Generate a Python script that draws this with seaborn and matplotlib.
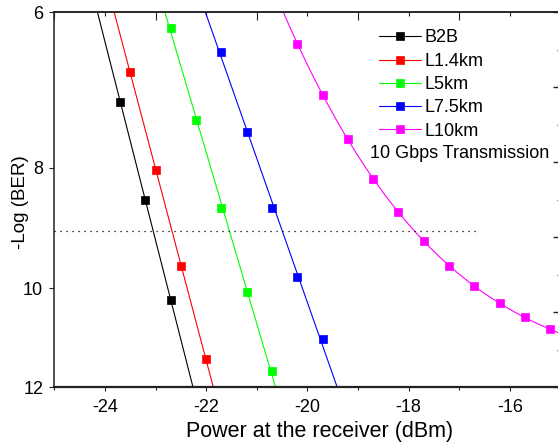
import numpy as np
import seaborn as sns
from matplotlib import pyplot as plt
from matplotlib.lines import Line2D
from matplotlib.ticker import FixedLocator, NullLocator, FuncFormatter

# measured points: received power (dBm) vs -log(BER)
p_b2b = [-23.7, -23.2, -22.7]
ber_b2b = [7.08, 8.50, 10.22]
p_l14 = [-23.5, -23.0, -22.5, -22.0]
ber_l14 = [6.70, 8.04, 9.60, 11.39]
p_l5 = [-22.7, -22.2, -21.7, -21.2, -20.7]
ber_l5 = [6.18, 7.32, 8.62, 10.07, 11.64]
p_l75 = [-21.7, -21.2, -20.7, -20.2, -19.7]
ber_l75 = [6.46, 7.49, 8.62, 9.79, 10.99]
p_l10 = [-20.2, -19.7, -19.2, -18.7, -18.2, -17.7, -17.2, -16.7, -16.2, -15.7, -15.2]
ber_l10 = [6.36, 6.99, 7.59, 8.17, 8.69, 9.16, 9.59, 9.96, 10.28, 10.55, 10.79]

labels = ['B2B', 'L1.4km', 'L5km', 'L7.5km', 'L10km']
colors = ['black', '#ff0000', '#00ff00', '#0000ff', '#ff00ff']
fit_deg = [1, 1, 1, 1, 3]

fec_limit = 9.0      # dotted reference line
fec_x_end = -16.6

sns.set_theme(style='ticks')
plt.rcParams['font.family'] = ['Liberation Sans', 'DejaVu Sans']
plt.rcParams['axes.unicode_minus'] = False

W, H = 558, 443
fig = plt.figure(figsize=(W/100, H/100), dpi=100)
ax = fig.add_axes([54.4/W, 1-387/H, (560.4-54.4)/W, (387-12)/H])

series = [(p_b2b, ber_b2b), (p_l14, ber_l14), (p_l5, ber_l5), (p_l75, ber_l75), (p_l10, ber_l10)]
for (xs, ys), col, deg in zip(series, colors, fit_deg):
    xs = np.array(xs); ys = np.array(ys)
    #fitted curve, straight on the log axis
    coef = np.polyfit(xs, np.log(ys), deg)
    xx = np.linspace(xs[0]-1.2, xs[-1]+1.2, 300)
    sns.lineplot(x=xx, y=np.exp(np.polyval(coef, xx)), color=col, lw=0.8, ax=ax, legend=False)
    sns.scatterplot(x=xs, y=ys, marker='s', s=30, color=col, edgecolor=col, linewidth=0.5,
                    ax=ax, legend=False, zorder=3)

ax.plot([-25, fec_x_end], [fec_limit, fec_limit], color='black', lw=0.9,
        linestyle=(0, (1, 3.8)))

ax.set_xlim(-25, -15)
ax.set_yscale('log')
ax.set_ylim(12, 6)
ax.yaxis.set_major_locator(FixedLocator([6, 8, 10, 12]))
ax.yaxis.set_major_formatter(FuncFormatter(lambda v, p: '%g' % v))
ax.yaxis.set_minor_locator(NullLocator())
ax.xaxis.set_major_locator(FixedLocator([-24, -22, -20, -18, -16]))
ax.xaxis.set_minor_locator(FixedLocator([-25, -23, -21, -19, -17, -15]))
ax.tick_params(axis='x', which='major', labelsize=13, length=3.1, width=0.8,
               direction='out', color='#222222', labelcolor='black', pad=5.5)
ax.tick_params(axis='y', which='major', labelsize=13, length=3.6, width=0.8,
               direction='out', color='#222222', labelcolor='black', pad=4.5)
ax.tick_params(axis='x', which='minor', length=2, width=0.8, direction='out', color='#222222')

for s in ['left', 'top']:
    ax.spines[s].set_linewidth(1.1)
    ax.spines[s].set_color('#222222')
ax.spines['bottom'].set_linewidth(1.6)
ax.spines['bottom'].set_color('#222222')
ax.spines['right'].set_visible(False)

ax.set_xlabel('Power at the receiver (dBm)', fontsize=15.5, color='black')
ax.set_ylabel('-Log (BER)', fontsize=13.5, color='black')
ax.xaxis.set_label_coords(0.525, -0.092)
ax.yaxis.set_label_coords(-0.05, 0.493)

#top axis ticks
top = ax.secondary_xaxis('top')
top.xaxis.set_major_locator(FixedLocator([-25, -23, -21, -19, -17, -15]))
top.xaxis.set_minor_locator(FixedLocator([-24, -22, -20, -18, -16]))
top.tick_params(which='major', direction='in', length=6, width=0.8, labeltop=False, color='#222222')
top.tick_params(which='minor', direction='in', length=3, width=0.8, color='#222222')
top.spines['top'].set_linewidth(1.1)
top.spines['top'].set_color('#222222')

#right axis ticks (labels fall outside the figure)
ax2 = ax.twinx()
ax2.set_ylim(0, 10)
ax2.yaxis.set_major_locator(FixedLocator([0, 2, 4, 6, 8, 10]))
ax2.yaxis.set_minor_locator(FixedLocator([1, 3, 5, 7, 9]))
ax2.tick_params(which='major', direction='in', length=5, width=1.0, labelright=False, color='#222222')
ax2.tick_params(which='minor', direction='in', length=2, width=1.0, color='#222222')
for s in ['left', 'top', 'bottom']:
    ax2.spines[s].set_visible(False)

handles = [Line2D([0], [0], color=c, lw=0.8, marker='s', ms=6.3, mec=c, mew=0.5) for c in colors]
leg = ax.legend(handles, labels, loc='upper left', bbox_to_anchor=(379/W, 1-29.5/H),
                bbox_transform=fig.transFigure, frameon=False, fontsize=13,
                borderpad=0, borderaxespad=0, labelspacing=0.35, handlelength=2.3,
                handletextpad=0.2)
for t in leg.get_texts():
    t.set_color('black')

fig.text(370/W, 1-153/H, '10 Gbps Transmission', fontsize=13, va='center', ha='left', color='black')

fig.savefig('out.png', dpi=100)
